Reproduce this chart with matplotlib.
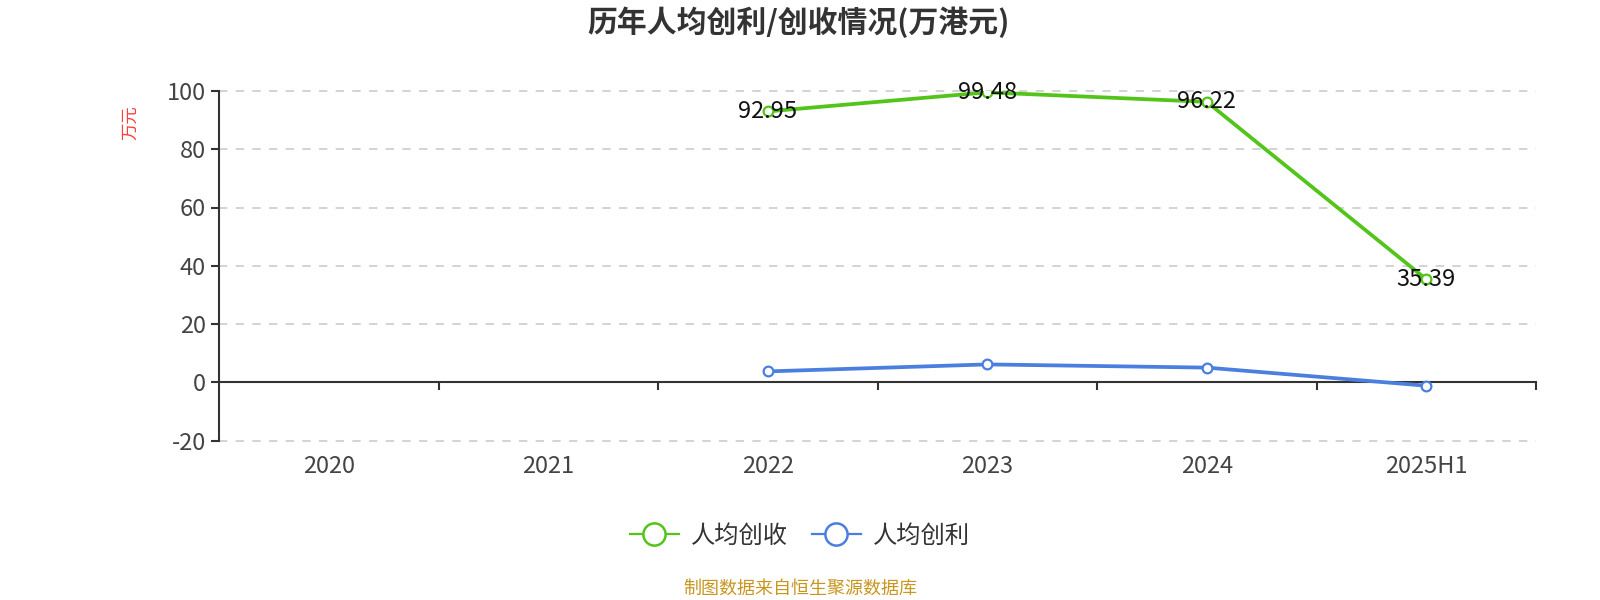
import numpy as np
import matplotlib
matplotlib.use('Agg')
import matplotlib.pyplot as plt
from matplotlib.lines import Line2D

plt.rcParams['font.family'] = ['Noto Sans CJK SC', 'DejaVu Sans']
plt.rcParams['axes.unicode_minus'] = False

years = ['2020', '2021', '2022', '2023', '2024', '2025H1']
revenue = [None, None, 92.95, 99.48, 96.22, 35.39]   # 人均创收
profit = [None, None, 3.8, 6.2, 5.1, -1.1]           # 人均创利

green = '#52c41a'
blue = '#4a7fe0'

fig = plt.figure(figsize=(16, 6), dpi=100)
ax = fig.add_axes([0.137, 0.2653, 0.823, 0.5833])

x = np.arange(len(years))
rev = np.array([np.nan if v is None else v for v in revenue])
pro = np.array([np.nan if v is None else v for v in profit])

ax.plot(x, rev, color=green, lw=2.7, marker='o', ms=7, mfc='white', mew=1.6, zorder=3)
ax.plot(x, pro, color=blue, lw=2.7, marker='o', ms=7, mfc='white', mew=1.6, zorder=3)

for xi, v in zip(x, revenue):
    if v is not None:
        ax.text(xi, v, f'{v:.2f}', ha='center', va='center', fontsize=17, color='#111111', zorder=4)

ax.set_xlim(-0.5, len(years) - 0.5)
ax.set_ylim(-20, 100)
ax.set_yticks(np.arange(-20, 101, 20))
ax.yaxis.grid(True, ls=(0, (5, 5)), color='#cccccc', lw=1.2)
for gl in ax.get_ygridlines():
    gl.set_clip_on(False)
ax.set_axisbelow(True)
ax.tick_params(axis='y', labelsize=17, colors='#333333', length=6, width=1.5, labelcolor='#444444')

for s in ['top', 'right']:
    ax.spines[s].set_visible(False)
ax.spines['left'].set_color('#333333')
ax.spines['left'].set_linewidth(1.5)
ax.spines['bottom'].set_position(('data', 0))
ax.spines['bottom'].set_color('#333333')
ax.spines['bottom'].set_linewidth(1.5)

ax.set_xticks(np.arange(0.5, len(years) - 0.4, 1))
ax.set_xticklabels([])
ax.tick_params(axis='x', length=6, width=1.5, colors='#333333')
for xi, lab in zip(x, years):
    ax.text(xi, -0.073, lab, transform=ax.get_xaxis_transform(), ha='center', va='center',
            fontsize=17, color='#444444')

fig.text(0.081, 0.796, '万元', rotation=90, color='#ff3b3b', fontsize=12.5, ha='center', va='center')

fig.suptitle('历年人均创利/创收情况(万港元)', x=0.499, y=0.9626, va='center',
             fontsize=21.5, fontweight='bold', color='#333333')

handles = [
    Line2D([0], [0], color=green, lw=1.6, marker='o', ms=16, mfc='white', mew=1.8),
    Line2D([0], [0], color=blue, lw=1.6, marker='o', ms=16, mfc='white', mew=1.8),
]
fig.legend(handles, ['人均创收', '人均创利'], loc='center', bbox_to_anchor=(0.5, 0.107), ncol=2,
           frameon=False, fontsize=17.5, handlelength=2.0, columnspacing=1.0, handletextpad=0.5,
           labelcolor='#333333')

fig.text(0.5, 0.019, '制图数据来自恒生聚源数据库', ha='center', va='center', fontsize=13, color='#c8961e')

fig.savefig('out.png', dpi=100)
